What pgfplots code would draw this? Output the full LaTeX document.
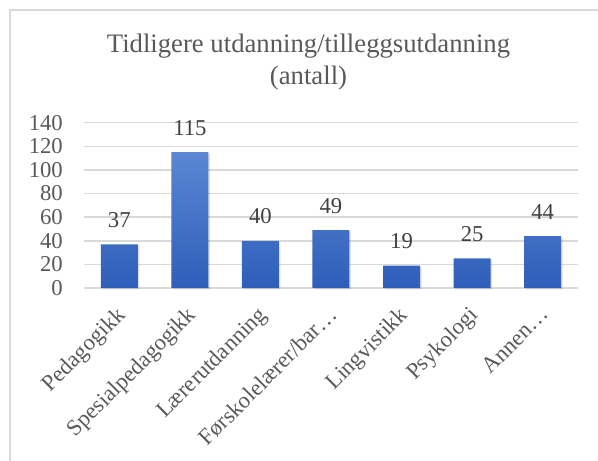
\documentclass[border=0pt]{standalone}
\usepackage{fontspec}
\setmainfont{Liberation Serif}
\usepackage{pgfplots}
\pgfplotsset{compat=1.18}
\definecolor{gridc}{HTML}{D9D9D9}
\definecolor{txt}{HTML}{595959}
\definecolor{lbl}{HTML}{404040}
\definecolor{bartop}{HTML}{5B87D3}
\definecolor{barbot}{HTML}{2E5EBA}
\begin{document}
\begin{tikzpicture}
\useasboundingbox (0pt,0pt) rectangle (598pt,461pt);
\draw[gridc, line width=1.5pt] (10pt,0pt) -- (10pt,451pt) -- (598pt,451pt);
\node[txt, font=\fontsize{26.7}{31}\selectfont, anchor=base, inner sep=0pt] at (308.5pt,408pt) {Tidligere utdanning/tilleggsutdanning};
\node[txt, font=\fontsize{26.7}{31}\selectfont, anchor=base, inner sep=0pt] at (308.5pt,376pt) {(antall)};
\begin{axis}[
  at={(84pt,173pt)}, anchor=south west,
  scale only axis, width=494pt, height=165.3pt,
  xmin=-0.5, xmax=6.5, ymin=0, ymax=140,
  ytick={0,20,...,140},
  xtick={0,...,6},
  xticklabels={Pedagogikk,Spesialpedagogikk,Lærerutdanning,Førskolelærer/bar…,Lingvistikk,Psykologi,Annen…},
  axis line style={draw=none},
  major tick length=0pt,
  ymajorgrids, grid style={gridc, line width=1.5pt},
  /pgf/number format/assume math mode=true,
  tick label style={txt, font=\fontsize{22.7}{26}\selectfont},
  yticklabel style={anchor=east, inner sep=0pt, xshift=-21pt},
  xticklabel style={anchor=north east, inner sep=0pt, xshift=-4pt, yshift=-17pt, rotate=45},
  clip=false,
]
\addplot[ybar, bar width=37pt, bar shift=1.5pt, draw=none, fill=black, opacity=0.12, yshift=-1.5pt]
  coordinates {(0,37) (1,115) (2,40) (3,49) (4,19) (5,25) (6,44)};
\addplot[ybar, bar width=37pt, bar shift=0pt, draw=none, top color=bartop, bottom color=barbot,
  nodes near coords,
  every node near coord/.append style={lbl, font=\fontsize{22.7}{26}\selectfont, anchor=base, inner sep=0pt, yshift=17pt}]
  coordinates {(0,37) (1,115) (2,40) (3,49) (4,19) (5,25) (6,44)};
\end{axis}
\end{tikzpicture}
\end{document}
